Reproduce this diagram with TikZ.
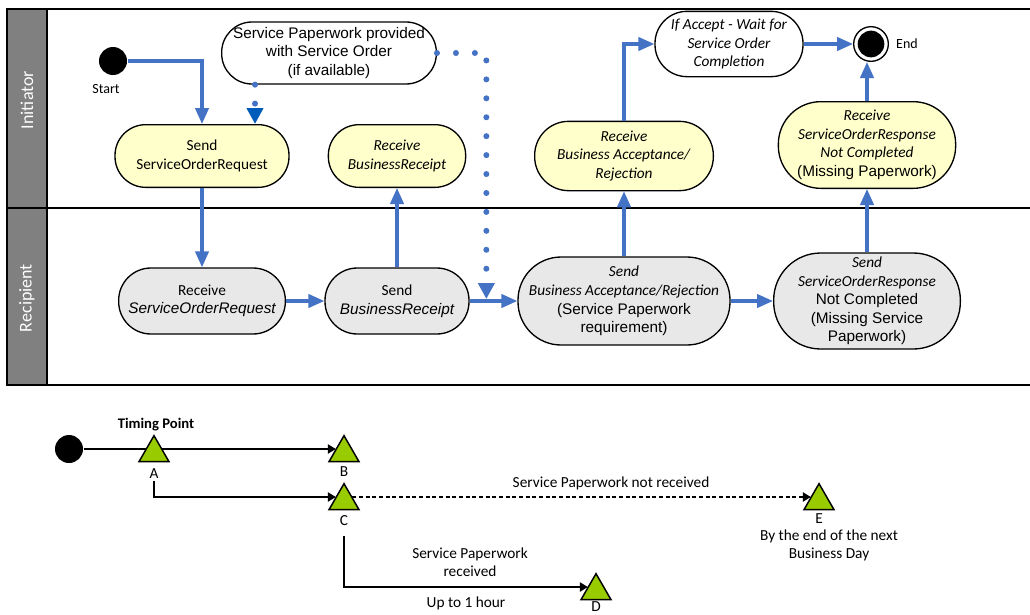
\documentclass[tikz,border=0pt]{standalone}
\usepackage{fontspec}
\setmainfont{Carlito}
\newfontfamily\arialfont{Liberation Sans}
\usetikzlibrary{arrows.meta,shapes.geometric,calc}

\newcommand{\arialtxt}[1]{{\arialfont #1}}

\definecolor{flowblue}{RGB}{68,114,196}
\definecolor{tipblue}{RGB}{0,92,186}
\definecolor{sendyellow}{RGB}{255,255,204}
\definecolor{recvgray}{RGB}{232,232,232}
\definecolor{lanegray}{RGB}{128,128,128}
\definecolor{pointgreen}{RGB}{153,204,0}

\tikzset{every picture/.style={line width=0.75pt}}
\tikzset{
	lanehead/.style={draw=black, line width=1.4pt, fill=lanegray},
	laneline/.style={draw=black, line width=1.4pt},
	lanetext/.style={rotate=90, text=white, font=\fontsize{13.5}{16}\selectfont},
	actbox/.style 2 args={rectangle, draw=black, line width=1pt, align=center, inner sep=0pt,
		minimum width=#1, minimum height=#2, rounded corners=0.49*#2,
		font=\fontsize{11.5}{13.9}\selectfont},
	yellowbox/.style={fill=sendyellow},
	graybox/.style={fill=recvgray},
	whitebox/.style={fill=white},
	flow/.style={draw=flowblue, line width=2.4pt, -{Triangle[width=10pt,length=12pt]}},
	dotflow/.style={draw=flowblue, line width=4.5pt, line cap=round, dash pattern=on 0pt off 14.2pt, -{Triangle[width=12pt,length=12pt]}},
	pointmark/.style={regular polygon, regular polygon sides=3, draw=black, line width=1.1pt, fill=pointgreen, minimum size=26pt, inner sep=0pt},
	tline/.style={draw=black, line width=1.1pt, shorten >=-2pt, -{Triangle[width=7pt,length=6pt]}},
	tlabel/.style={font=\fontsize{11.5}{13.5}\selectfont, align=center, inner sep=1pt},
	smalllabel/.style={font=\fontsize{10.5}{13}\selectfont, inner sep=1pt},
}

\begin{document}
\begin{tikzpicture}[x=0.75pt,y=0.75pt,yscale=-1,xscale=1]
	\useasboundingbox (0,0) rectangle (1030,614);

	%Shape: Lane heads
	\draw [lanehead] (7,9) rectangle (47,208);
	\draw [lanehead] (7,208) rectangle (47,385);
	%Shape: Lane lines
	\draw [laneline] (47,9) -- (1030,9);
	\draw [laneline] (47,208) -- (1030,208);
	\draw [laneline] (47,385) -- (1030,385);
	% Text Node
	\draw (27,100) node [lanetext] (laneInit) {Initiator};
	% Text Node
	\draw (27,298) node [lanetext] (laneRecp) {Recipient};

	%Shape: Start and end
	\draw (113,61) node [circle, fill=black, minimum size=21pt, inner sep=0pt] (start) {};
	\draw (106,89) node [smalllabel] (startText) {Start};
	\draw (871,44) node [circle, draw=black, fill=white, line width=1pt, minimum size=26pt, inner sep=0pt] (endC) {};
	\draw (871,44) node [circle, fill=black, minimum size=20pt, inner sep=0pt] (endDot) {};
	\draw (907,44) node [smalllabel] (endText) {End};

	%Shape: Initiator activities
	\draw (329,53) node [actbox={161pt}{46.5pt}, whitebox] (note) {\arialtxt{Service Paperwork provided}\\\arialtxt{with Service Order}\\\arialtxt{(if available)}};
	\draw (202,156) node [actbox={130.5pt}{47pt}, yellowbox] (sendSOR) {Send\\ServiceOrderRequest};
	\draw (397,156) node [actbox={103pt}{47pt}, yellowbox] (recvBR) {\textit{Receive}\\\textit{BusinessReceipt}};
	\draw (624,156) node [actbox={134pt}{52pt}, yellowbox] (recvBAR) {\textit{Receive}\\\textit{Business Acceptance/}\\\textit{Rejection}};
	\draw (729,44) node [actbox={111pt}{49pt}, whitebox] (wait) {\textit{If Accept - Wait for}\\\textit{Service Order}\\\textit{Completion}};
	\draw (867,145) node [actbox={133pt}{65pt}, yellowbox] (recvSOResp) {\textit{Receive}\\\textit{ServiceOrderResponse}\\\textit{Not Completed}\\\arialtxt{(Missing Paperwork)}};

	%Shape: Recipient activities
	\draw (202,301) node [actbox={125pt}{49.5pt}, graybox] (recvSOR) {Receive\\\arialtxt{\itshape ServiceOrderRequest}};
	\draw (397,301) node [actbox={108pt}{49.5pt}, graybox] (sendBR) {Send\\\arialtxt{\itshape BusinessReceipt}};
	\draw (624,301) node [actbox={159pt}{66pt}, graybox] (sendBAR) {\textit{Send}\\\textit{Business Acceptance/Rejection}\\\arialtxt{(Service Paperwork}\\\arialtxt{requirement)}};
	\draw (867,301) node [actbox={140pt}{72pt}, graybox] (sendSOResp) {\textit{Send}\\\textit{ServiceOrderResponse}\\\arialtxt{Not Completed}\\\arialtxt{(Missing Service}\\\arialtxt{Paperwork)}};

	%Connector: flows
	\draw [flow] (start.east) -| (sendSOR.north);
	\draw [flow] (sendSOR.south) -- (recvSOR.north);
	\draw [flow] (recvSOR.east) -- (sendBR.west);
	\draw [flow] (sendBR.north) -- (recvBR.south);
	\draw [flow] (sendBR.east) -- (sendBAR.west);
	\draw [flow] (sendBAR.north) -- (recvBAR.south);
	\draw [flow] (recvBAR.north) |- (wait.west);
	\draw [flow] (wait.east) -- (endC.west);
	\draw [flow] (sendBAR.east) -- (sendSOResp.west);
	\draw [flow] (sendSOResp.north) -- (recvSOResp.south);
	\draw [flow] (recvSOResp.north) -- (recvSOResp.north |- endC.south);

	%Connector: paperwork (dotted)
	\coordinate (dotJoin) at ($(sendBR.east)!0.35!(sendBAR.west)$);
	\draw [dotflow, -{Triangle[width=12pt,length=12pt,color=tipblue]}] ([xshift=-55.5pt]note.south) -- ([xshift=-55.5pt]note.south |- sendSOR.north);
	\draw [dotflow, shorten >=1.5pt] (note.east) -| (dotJoin);

	%Shape: Timing points
	\draw (69,449) node [circle, fill=black, minimum size=21pt, inner sep=0pt] (tStart) {};
	\draw (154,453) node [pointmark] (tA) {};
	\draw (344,453) node [pointmark] (tB) {};
	\draw (344,501) node [pointmark] (tC) {};
	\draw (819,501) node [pointmark] (tE) {};
	\draw (596,591) node [pointmark] (tD) {};

	% Text Node
	\draw (156,425) node [tlabel, font=\bfseries\fontsize{11}{13}\selectfont] (timingTitle) {Timing Point};
	\draw (154,474) node [tlabel] (labA) {A};
	\draw (344,472) node [tlabel] (labB) {B};
	\draw (344,521) node [tlabel] (labC) {C};
	\draw (819,519) node [tlabel] (labE) {E};
	\draw (596,607) node [tlabel] (labD) {D};
	\draw (611,483) node [tlabel] (notRecvText) {Service Paperwork not received};
	\draw (829,545) node [tlabel] (endDayText) {By the end of the next\\Business Day};
	\draw (470,562) node [tlabel] (recvText) {Service Paperwork\\received};
	\draw (466,603) node [tlabel] (hourText) {Up to 1 hour};

	%Connector: timing
	\draw [tline, -] (tStart) -- ([yshift=-3pt]tA.west);
	\draw [tline, shorten <=-2pt] ([yshift=-3pt]tA.east) -- ([yshift=-3pt]tB.west);
	\draw [tline] (labA.south) |- ([yshift=-3pt]tC.west);
	\draw [tline, shorten <=-2pt, dash pattern=on 3pt off 2pt] ([yshift=-3pt]tC.east) -- ([yshift=-3pt]tE.west);
	\draw [tline] ([yshift=6pt]labC.south) |- ([yshift=-3pt]tD.west);

\end{tikzpicture}
\end{document}
